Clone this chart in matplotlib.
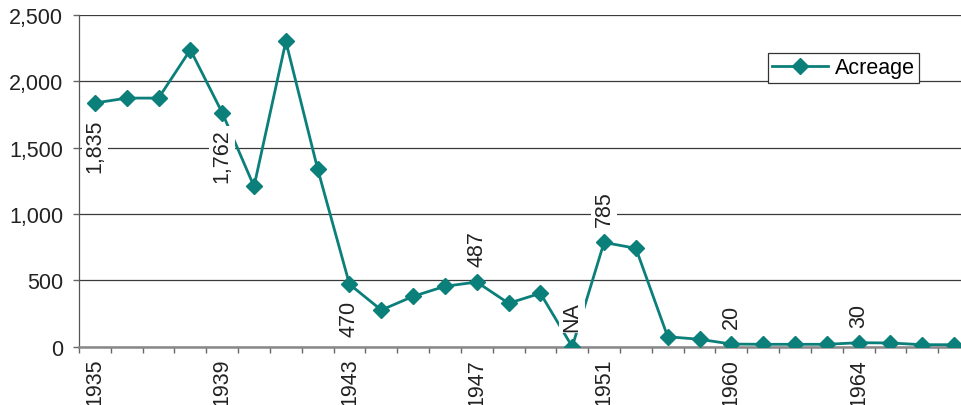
import matplotlib
matplotlib.use("Agg")
import matplotlib.pyplot as plt

plt.rcParams["font.family"] = ["Liberation Sans", "DejaVu Sans"]

years = ["1935", "1936", "1937", "1938", "1939", "1940", "1941", "1942",
         "1943", "1944", "1945", "1946", "1947", "1948", "1949", "1950",
         "1951", "1952", "1955", "1958", "1960", "1961", "1962", "1963",
         "1964", "1965", "1966", "1967"]
acreage = [1835, 1872, 1872, 2236, 1762, 1207, 2299, 1338,
           470, 276, 379, 455, 487, 327, 402, 0,
           785, 741, 75, 56, 20, 18, 18, 18,
           30, 28, 15, 15]

# data labels shown on the chart: (index, text, above?)
label_idx = [0, 4, 8, 12, 15, 16, 20, 24]
label_txt = ["1,835", "1,762", "470", "487", "NA", "785", "20", "30"]
label_above = [False, False, False, True, True, True, True, True]

TEAL = "#0b7f79"
FS = 15.5

fig = plt.figure(figsize=(9.62, 4.06), dpi=100)
ax = fig.add_axes([79 / 962, 58.3 / 406, 891 / 962, 332 / 406])

x = list(range(len(years)))
ax.plot(x, acreage, color=TEAL, lw=2.0, marker="D", ms=8.5,
        mec=TEAL, mfc=TEAL, label="Acreage", zorder=3)

for i, txt, above in zip(label_idx, label_txt, label_above):
    off = 11.5 if above else -11.5
    ax.annotate(txt, (i, acreage[i]), xytext=(0, off), textcoords="offset points",
                rotation=90, ha="center", va="bottom" if above else "top",
                fontsize=FS, color="#222222", zorder=4,
                bbox=dict(boxstyle="square,pad=0.12", fc="white", ec="none"))

ax.set_xlim(-0.5, len(years) - 0.5)
ax.set_ylim(0, 2500)
ax.set_yticks(range(0, 2501, 500))
ax.set_yticklabels([f"{v:,}" for v in range(0, 2501, 500)])
ax.yaxis.grid(True, color="#3a3a3a", lw=0.9)
ax.set_axisbelow(True)

major = list(range(0, len(years), 4))
ax.set_xticks(major)
ax.set_xticklabels([years[i] for i in major], rotation=90)
ax.set_xticks([i - 0.5 for i in range(len(years) + 1)], minor=True)
ax.tick_params(axis="x", which="major", length=0, pad=8, labelsize=FS, colors="#222222")
ax.tick_params(axis="x", which="minor", length=4.5, width=1, color="#666666", direction="out")
ax.tick_params(axis="y", length=4.5, width=1, color="#666666", pad=7, labelsize=FS,
               labelcolor="#222222")

for s in ("top", "right"):
    ax.spines[s].set_visible(False)
ax.spines["left"].set_color("#555555")
ax.spines["left"].set_linewidth(0.9)
ax.spines["bottom"].set_color("#888888")
ax.spines["bottom"].set_linewidth(1.8)

leg = ax.legend(loc="upper left", bbox_to_anchor=(768 / 962, 1 - 54 / 406),
                bbox_transform=fig.transFigure, borderaxespad=0, fontsize=FS,
                handlelength=2.6, fancybox=False, framealpha=1, edgecolor="#333333",
                borderpad=0.2, handletextpad=0.3)
leg.get_frame().set_linewidth(0.9)

fig.savefig("out.png", dpi=100)
